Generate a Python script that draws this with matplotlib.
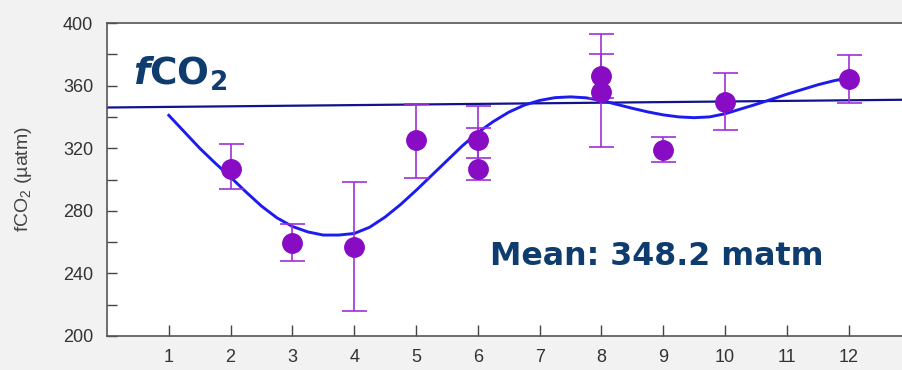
import numpy as np
import matplotlib
matplotlib.use("Agg")
import matplotlib.pyplot as plt
from matplotlib.ticker import MultipleLocator

plt.rcParams['font.family'] = ['Liberation Sans', 'DejaVu Sans']
plt.rcParams['mathtext.fontset'] = 'custom'
plt.rcParams['mathtext.rm'] = 'Liberation Sans'
plt.rcParams['mathtext.bf'] = 'DejaVu Sans:bold'
plt.rcParams['mathtext.bfit'] = 'DejaVu Sans:italic:bold'

# monthly fCO2 observations (uatm) with error bar ends
month = [2, 3, 4, 5, 6, 6, 8, 8, 9, 10, 12]
fco2 = [307, 259.5, 257, 325, 325, 307, 366, 356, 319, 349.5, 364.5]
err_low = [294, 248, 216, 301, 314, 300, 352, 321, 311, 331.5, 349]
err_high = [322.5, 271.5, 298.5, 348, 347, 333, 393, 380, 327, 368, 379.5]

# seasonal fit curve, sampled every quarter month
fit_month = [1.0, 1.25, 1.5, 1.75, 2.0, 2.25, 2.5, 2.75, 3.0, 3.25, 3.5,
             3.75, 4.0, 4.25, 4.5, 4.75, 5.0, 5.25, 5.5, 5.75, 6.0, 6.25,
             6.5, 6.75, 7.0, 7.25, 7.5, 7.75, 8.0, 8.25, 8.5, 8.75, 9.0,
             9.25, 9.5, 9.75, 10.0, 10.25, 10.5, 10.75, 11.0, 11.25, 11.5,
             11.75, 12.0]
fit_fco2 = [341, 330.5, 320, 310.5, 301.5, 292, 283, 275.5, 270, 266.5,
            264.5, 264.5, 265.5, 269.5, 276, 284, 293, 302.5, 312, 321.5,
            330, 337, 343, 347.5, 350.5, 352.3, 352.8, 352.2, 350.5, 348,
            345.5, 343.2, 341.3, 340, 339.5, 340, 342, 345, 348, 351.2,
            354.5, 357.5, 360.5, 363, 365]

# trend line through the annual mean
trend_month = [0, 13]
trend_fco2 = [346.0, 351.0]

xticks = list(range(1, 13))

fig = plt.figure(figsize=(9.03, 3.70), dpi=100, facecolor='#f2f2f2')
ax = fig.add_axes([107 / 903, 34 / 370, (903 - 107) / 903, 313 / 370])
ax.set_facecolor('white')

ax.plot(trend_month, trend_fco2, color='#12128a', lw=1.6, zorder=2)
ax.plot(fit_month, fit_fco2, color='#1c1cf0', lw=2.1, zorder=3)

fco2_arr = np.array(fco2)
yerr = [fco2_arr - np.array(err_low), np.array(err_high) - fco2_arr]
ax.errorbar(month, fco2, yerr=yerr, fmt='o', color='#880cc4', ms=14,
            mec='#880cc4', ecolor='#a030d8', elinewidth=1.2, capsize=9,
            capthick=1.2, zorder=4)

ax.set_xlim(0, 12.88)
ax.set_ylim(200, 400)
ax.set_xticks(xticks)
ax.yaxis.set_major_locator(MultipleLocator(40))
ax.yaxis.set_minor_locator(MultipleLocator(20))
ax.tick_params(axis='x', direction='in', length=8, width=1, color='#444444',
               labelsize=13, labelcolor='#333333', pad=9)
ax.tick_params(axis='y', which='both', direction='in', length=7, width=1,
               color='#444444', labelsize=13, labelcolor='#333333', pad=10)

for side in ['top', 'left', 'bottom']:
    ax.spines[side].set_color('#555555')
    ax.spines[side].set_linewidth(1.2)
ax.spines['right'].set_visible(False)

ax.set_ylabel('fCO$_2$ (µatm)', fontsize=14, color='#444444')
ax.yaxis.set_label_coords(-0.092, 0.5)

ax.text(0.42, 380, r'$\mathbfit{f}\mathbf{CO}_\mathbf{2}$', fontsize=27,
        color='#0f3c6e', va='top', ha='left')
ax.text(6.2, 245.5, 'Mean: 348.2 matm', fontsize=22.8, fontweight='bold',
        family='DejaVu Sans', color='#0f3c6e', va='baseline', ha='left')

fig.savefig('out.png', dpi=100, facecolor=fig.get_facecolor())
